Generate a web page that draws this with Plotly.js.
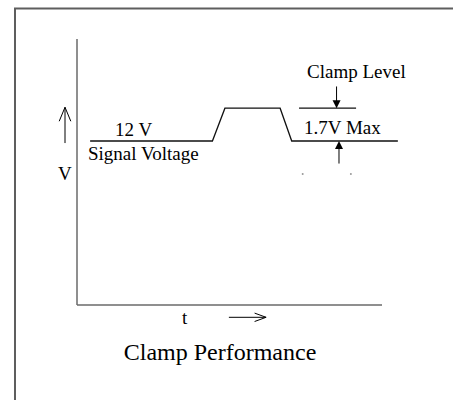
<!DOCTYPE html>
<html>
<head>
<meta charset="utf-8">
<script src="https://cdn.plot.ly/plotly-3.0.1.min.js"></script>
<style>
  html, body { margin: 0; padding: 0; background: #fff; }
  #chart { width: 453px; height: 400px; }
</style>
</head>
<body>
<div id="chart"></div>
<script>
// ---- data (schematic units: t = time, V = voltage level) ----
const signalT = [4.3, 44.4, 48.5, 66.6, 70.4, 105.2];
const signalV = [12, 12, 14.4, 14.4, 12, 12];

const clampT = [72.8, 91.5];
const clampV = [14.4, 14.4];

const axisXT = [0, 100];
const axisXV = [0, 0];
const axisYT = [0, 0];
const axisYV = [0, 19.46];

const dotT = [74, 89.8];
const dotV = [9.58, 9.58];

const labels = ['12 V', 'Signal Voltage', 'Clamp Level', '1.7V Max', 'V', 't'];
const labelT = [18.4, 21.9, 91.6, 87.2, -4.1, 35.4];
const labelV = [12.84, 11.05, 17.12, 13.02, 9.62, -0.88];

const titleText = 'Clamp Performance';

// open (line-drawn) arrows: V-axis arrow, t-axis arrow
const openTipT  = [-3.93, 62.0];
const openTipV  = [14.47, -0.9];
const openTailT = [-3.93, 49.8];
const openTailV = [11.85, -0.9];

// filled clamp arrows
const fillTipT  = [85.1, 85.9];
const fillTipV  = [14.4, 12.0];
const fillTailT = [85.1, 85.9];
const fillTailV = [16.1, 10.24];

// ---- styling ----
const FONT = 'Liberation Serif';
const XR = [-25.246, 123.279];
const YR = [-6.951, 22.317];
const W = 453, H = 400;
const HEAD_LEN = [14, 11.5];   // px
const HEAD_HALF = [5.8, 4.2];  // px

const pxT = W / (XR[1] - XR[0]);
const pxV = H / (YR[1] - YR[0]);

function openArrow(tipT, tipV, tailT, tailV, len, half) {
  const dx = (tipT - tailT) * pxT, dy = (tipV - tailV) * pxV;
  const L = Math.hypot(dx, dy), ux = dx / L, uy = dy / L;
  const bx = -ux * len, by = -uy * len;
  const nx = -uy * half, ny = ux * half;
  return {
    x: [tailT, tipT, null, tipT + (bx + nx) / pxT, tipT, tipT + (bx - nx) / pxT],
    y: [tailV, tipV, null, tipV + (by + ny) / pxV, tipV, tipV + (by - ny) / pxV]
  };
}

const traces = [
  { x: axisYT, y: axisYV, mode: 'lines', line: { color: '#6a6a6a', width: 1.5 }, hoverinfo: 'skip' },
  { x: axisXT, y: axisXV, mode: 'lines', line: { color: '#6a6a6a', width: 1.5 }, hoverinfo: 'skip' },
  { x: signalT, y: signalV, mode: 'lines', line: { color: '#111', width: 1.3 }, hoverinfo: 'skip' },
  { x: clampT, y: clampV, mode: 'lines', line: { color: '#111', width: 1.3 }, hoverinfo: 'skip' },
  { x: dotT, y: dotV, mode: 'markers', marker: { color: '#999', size: 2 }, hoverinfo: 'skip' }
];

openTipT.forEach((t, i) => {
  const a = openArrow(t, openTipV[i], openTailT[i], openTailV[i], HEAD_LEN[i], HEAD_HALF[i]);
  traces.push({ x: a.x, y: a.y, mode: 'lines', connectgaps: false,
    line: { color: '#000', width: 1 }, hoverinfo: 'skip' });
});

const annotations = labels.map((txt, i) => ({
  x: labelT[i], y: labelV[i], xref: 'x', yref: 'y',
  text: txt, showarrow: false,
  xanchor: 'center', yanchor: 'middle',
  font: { family: FONT, size: 19, color: '#000' }
}));

fillTipT.forEach((t, i) => {
  annotations.push({
    x: t, y: fillTipV[i], xref: 'x', yref: 'y',
    ax: fillTailT[i], ay: fillTailV[i], axref: 'x', ayref: 'y',
    text: '', showarrow: true,
    arrowhead: 2, arrowsize: 1.6, arrowwidth: 1,
    arrowcolor: '#000', standoff: 0, startstandoff: 0
  });
});

const layout = {
  width: W, height: H, autosize: false,
  margin: { l: 0, r: 0, t: 0, b: 0, pad: 0 },
  paper_bgcolor: '#fff', plot_bgcolor: '#fff',
  showlegend: false,
  title: {
    text: titleText,
    font: { family: FONT, size: 24, color: '#000' },
    x: 0.4857, xanchor: 'center', xref: 'paper',
    y: 0.12, yanchor: 'middle', yref: 'container'
  },
  xaxis: { range: XR, visible: false, fixedrange: true },
  yaxis: { range: YR, visible: false, fixedrange: true },
  annotations: annotations,
  shapes: [
    { type: 'path', xref: 'paper', yref: 'paper',
      path: 'M 0.0331 0 L 0.0331 0.9788 L 1.01 0.9788',
      line: { color: '#5e5e5e', width: 2 } }
  ]
};

Plotly.newPlot('chart', traces, layout, { displayModeBar: false, staticPlot: true });
</script>
</body>
</html>
